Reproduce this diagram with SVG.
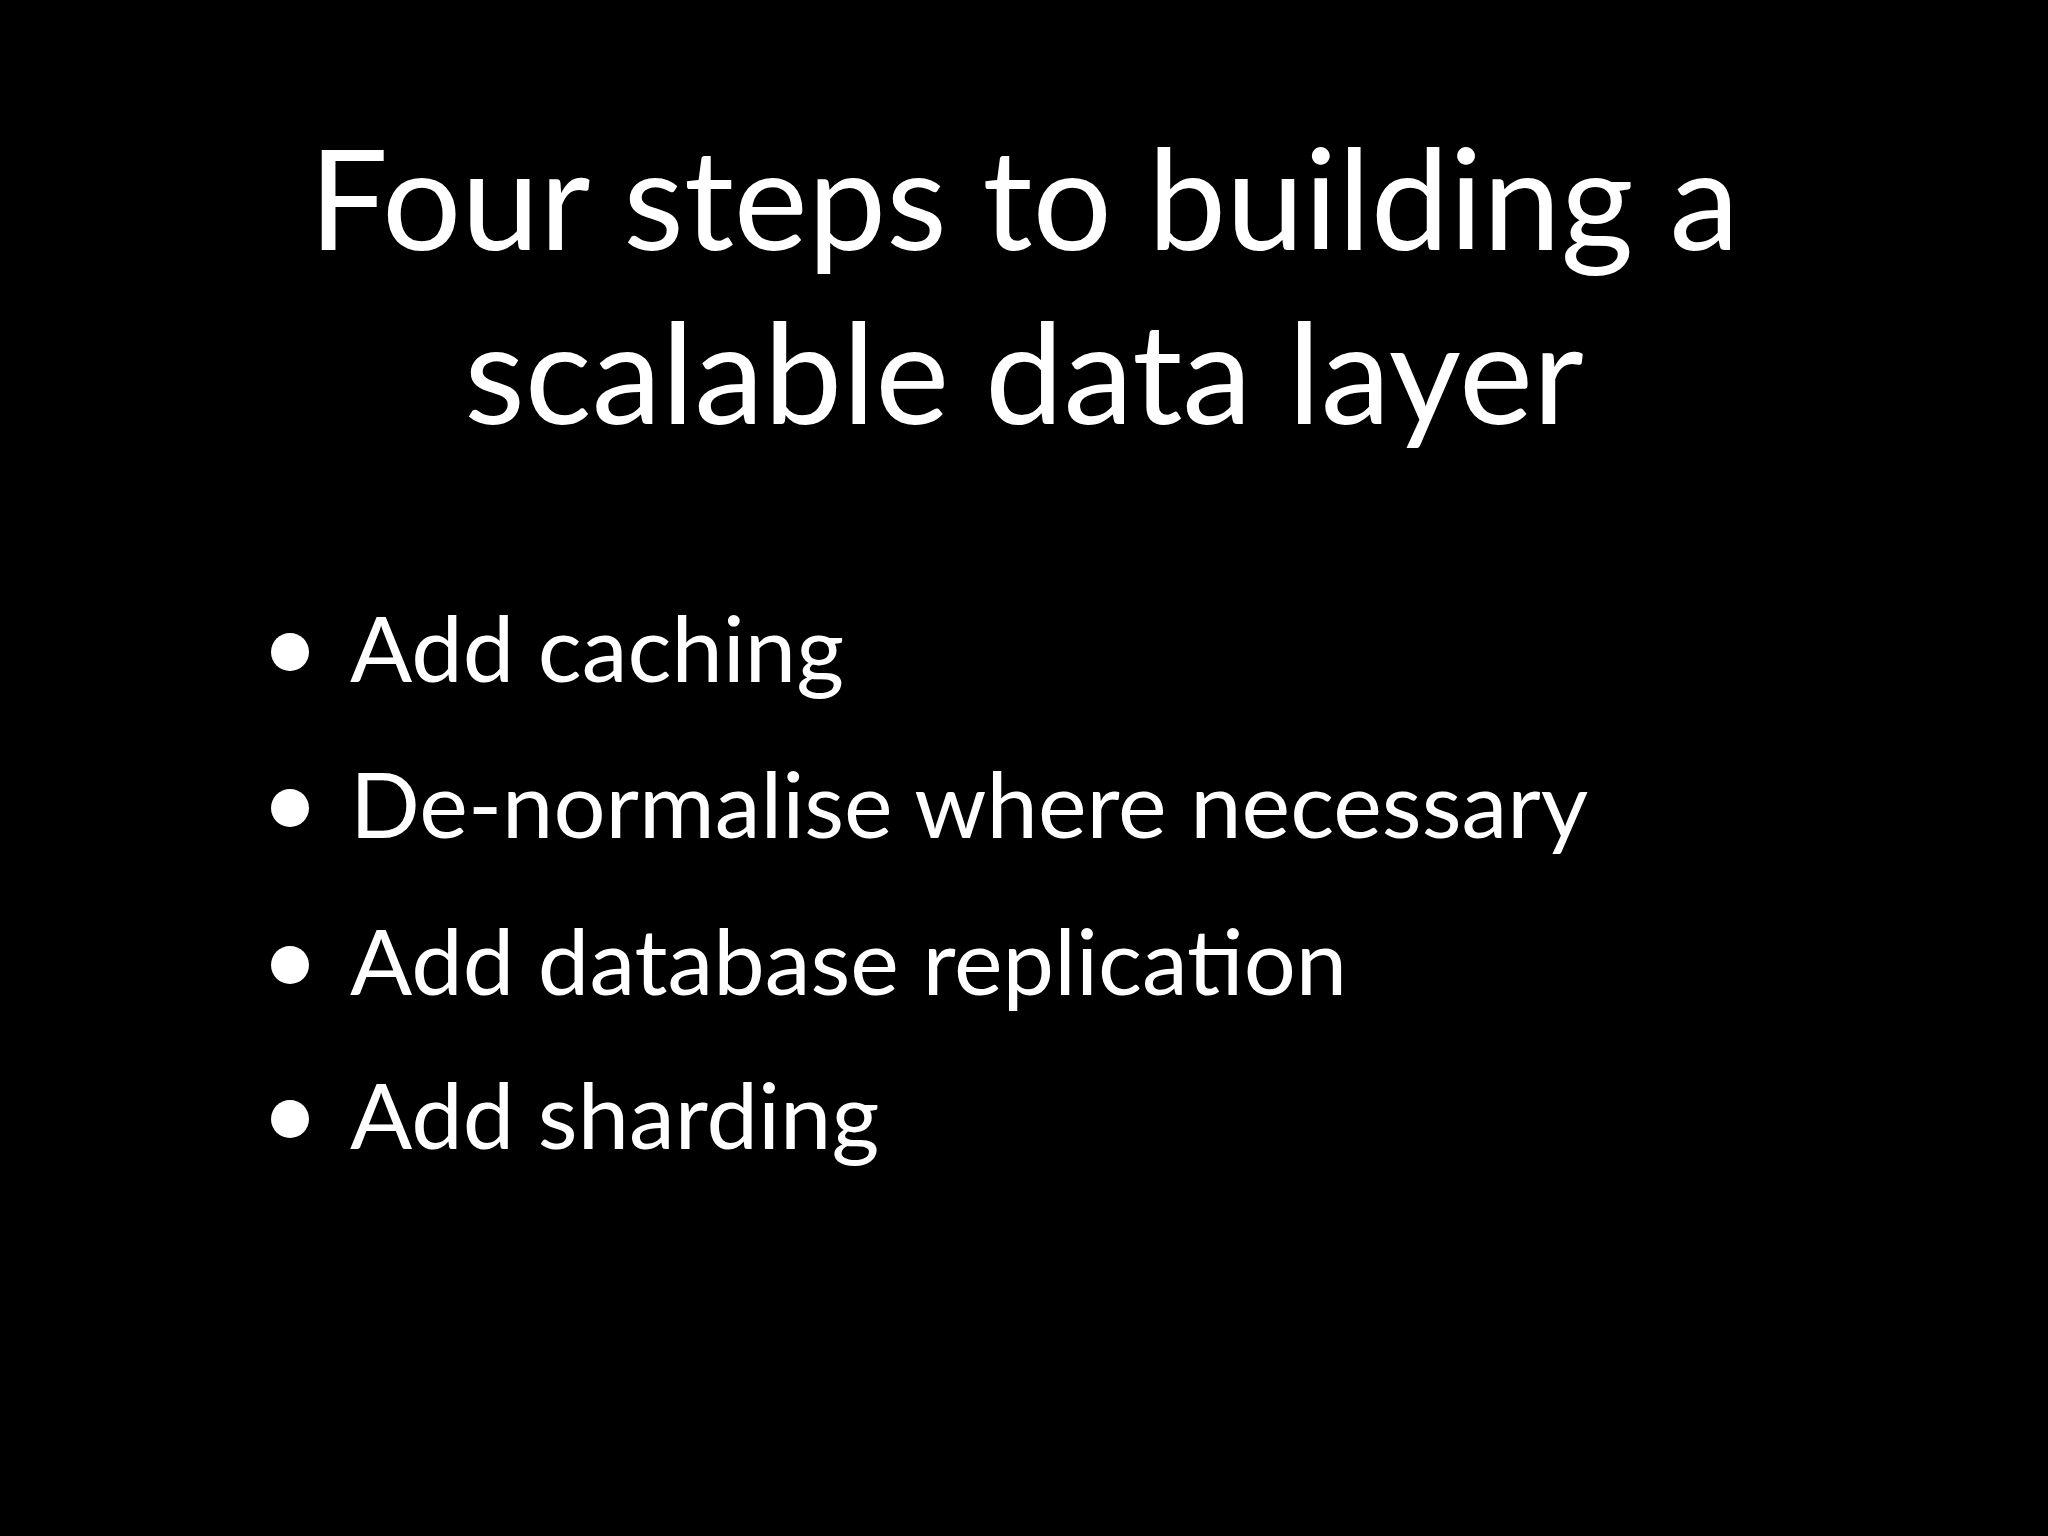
<svg xmlns="http://www.w3.org/2000/svg" width="2048" height="1536" viewBox="0 0 2048 1536">
<style>
text{font-family:Lato,"Open Sans",sans-serif;fill:#fff}
.t{font-size:140px;text-anchor:middle}
.b{font-size:92px}
circle{fill:#fff}
</style>
<rect width="2048" height="1536" fill="#000"/>
<g id="title">
<text class="t" x="1024" y="250">Four steps to building a</text>
<text class="t" x="1024" y="424">scalable data layer</text>
</g>
<g id="bullets">
<circle cx="290" cy="652" r="19"/><text class="b" x="350" y="682">Add caching</text>
<circle cx="290" cy="808" r="19"/><text class="b" x="350" y="838">De-normalise where necessary</text>
<circle cx="290" cy="965" r="19"/><text class="b" x="350" y="995">Add database replication</text>
<circle cx="290" cy="1119" r="19"/><text class="b" x="350" y="1149">Add sharding</text>
</g>
</svg>
